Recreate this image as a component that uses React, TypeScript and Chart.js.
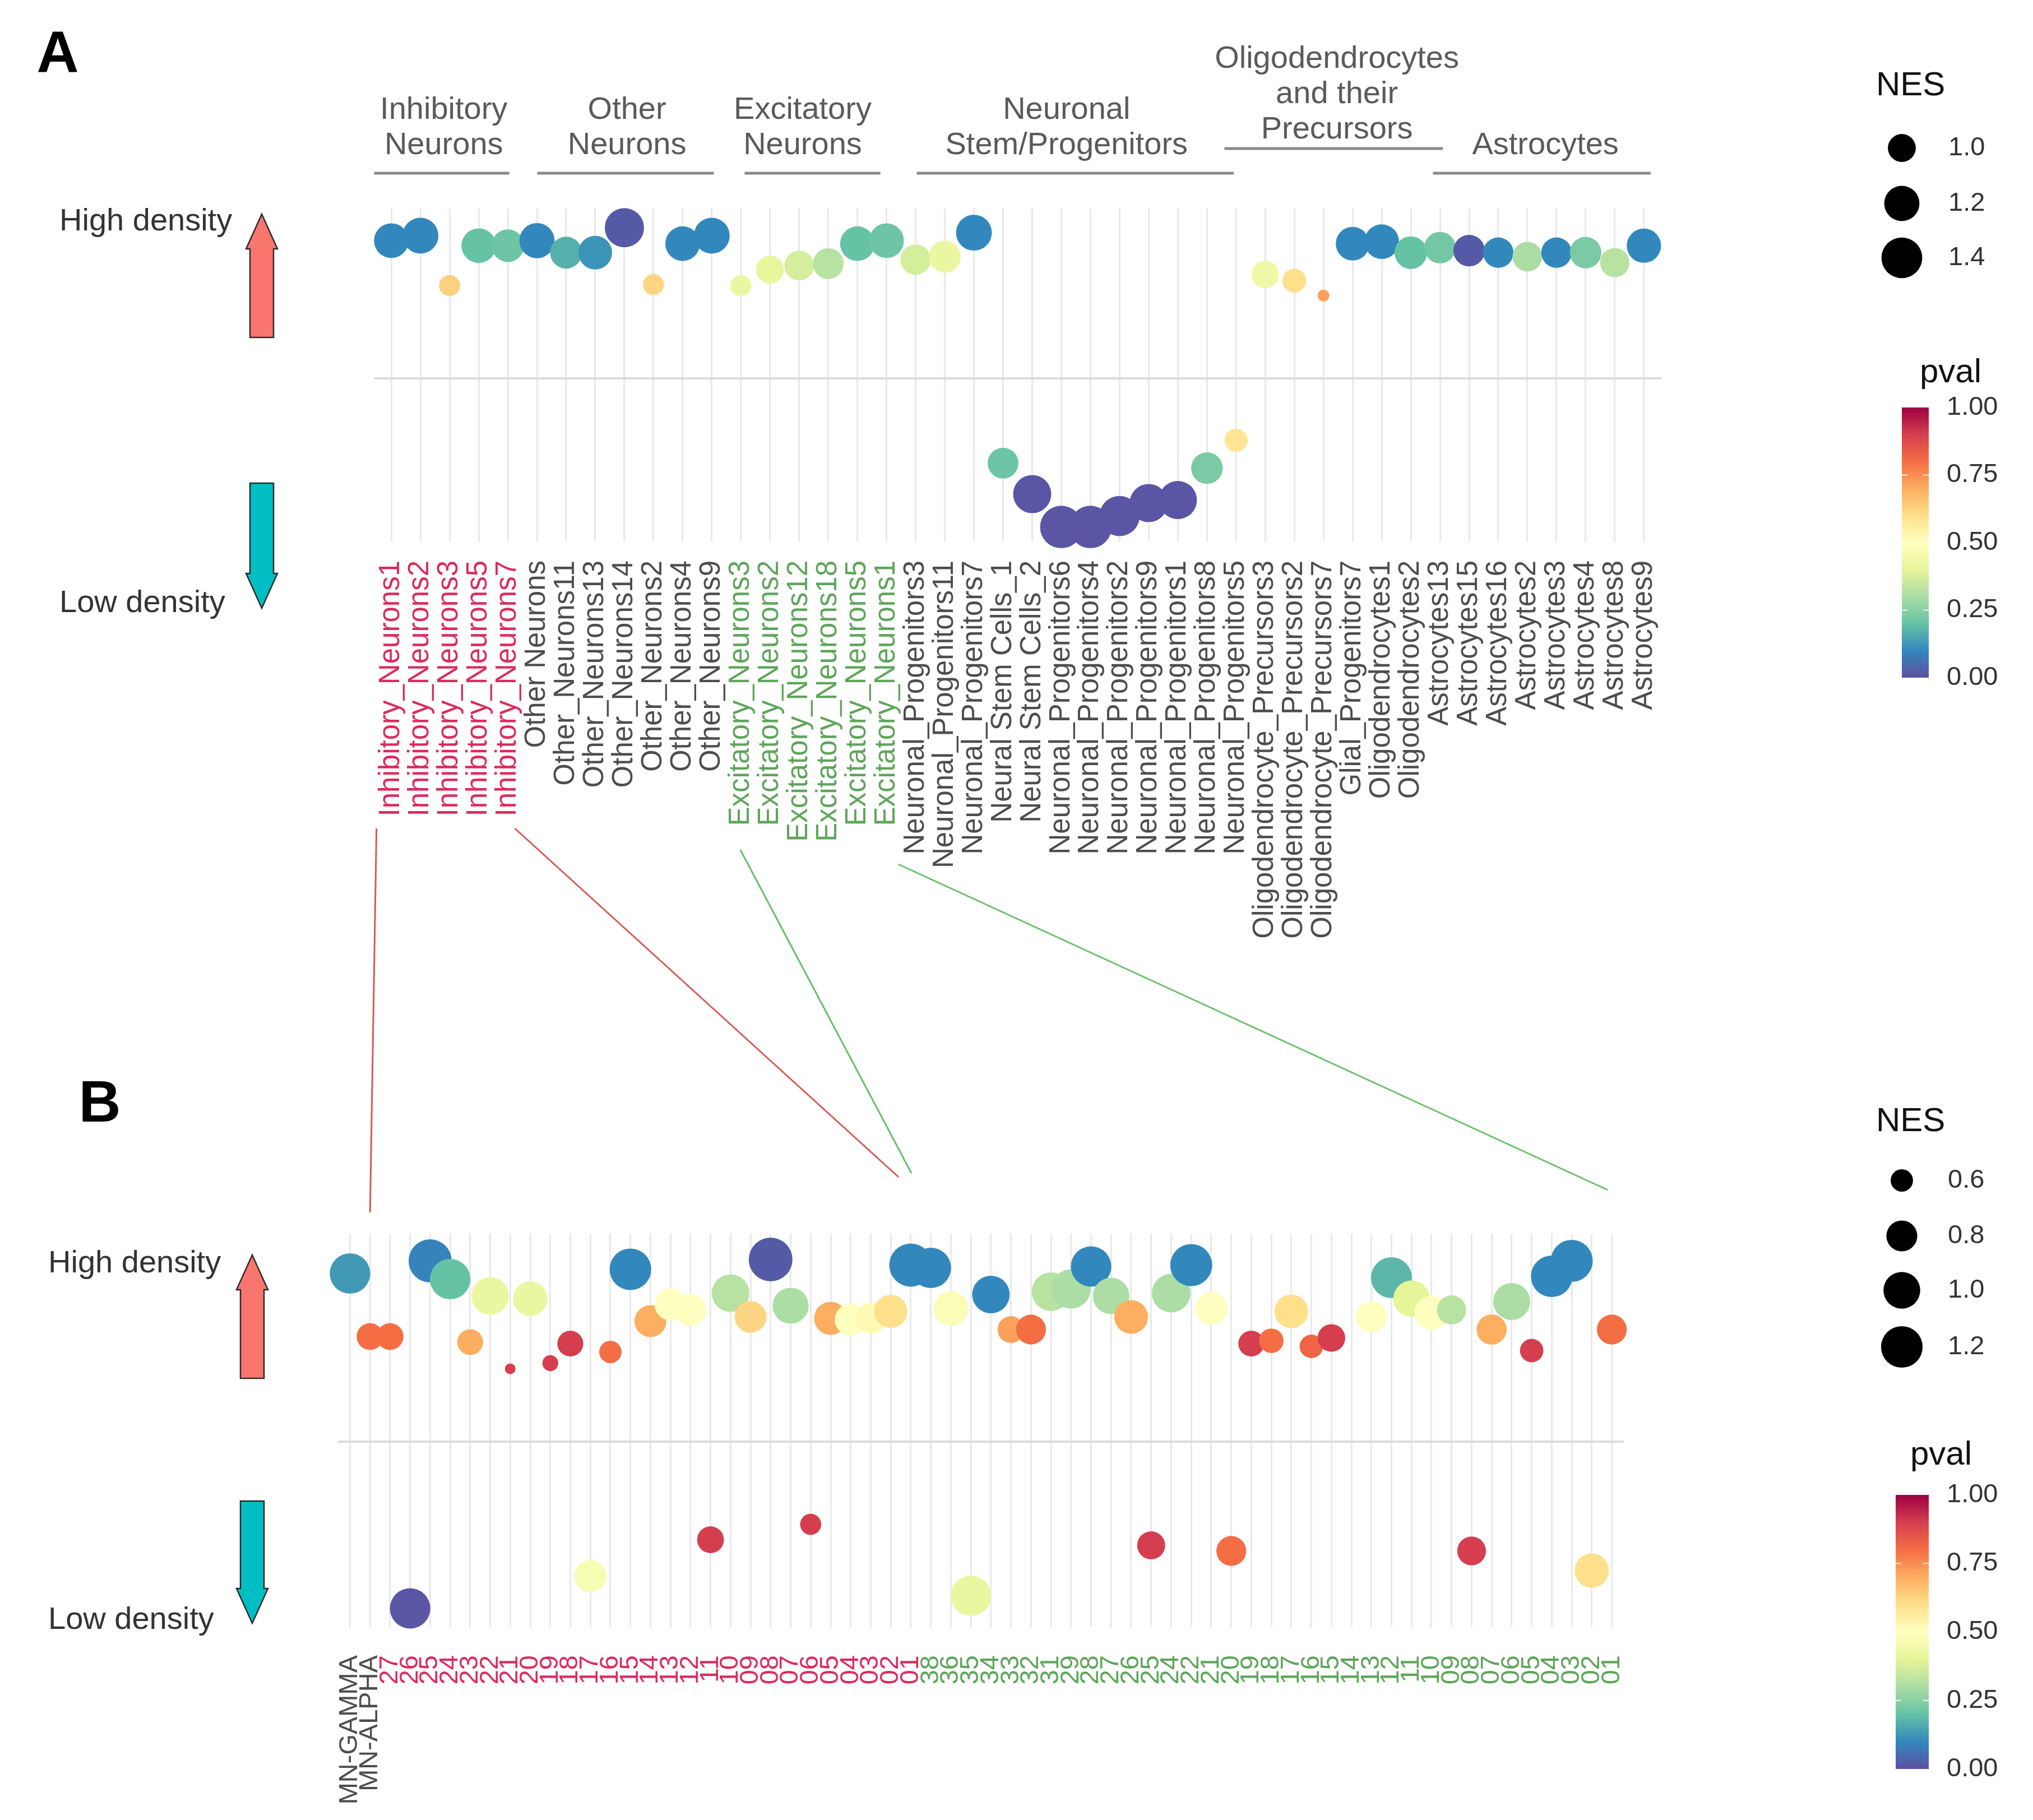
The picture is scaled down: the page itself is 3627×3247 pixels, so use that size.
import React, { useEffect, useRef } from 'react';
import { Chart, registerables } from 'chart.js';

Chart.register(...registerables);

const FONT = "'Liberation Sans', Arial, Helvetica, sans-serif";
const LETTER_FONT = "'Liberation Sans Narrow', 'Liberation Sans', Arial, sans-serif";

// ---------------- Panel A data ----------------
const aCategories = [
  'Inhibitory_Neurons1', 'Inhibitory_Neurons2', 'Inhibitory_Neurons3', 'Inhibitory_Neurons5', 'Inhibitory_Neurons7',
  'Other Neurons', 'Other_Neurons11', 'Other_Neurons13', 'Other_Neurons14', 'Other_Neurons2', 'Other_Neurons4', 'Other_Neurons9',
  'Excitatory_Neurons3', 'Excitatory_Neurons2', 'Excitatory_Neurons12', 'Excitatory_Neurons18', 'Excitatory_Neurons5', 'Excitatory_Neurons1',
  'Neuronal_Progenitors3', 'Neuronal_Progenitors11', 'Neuronal_Progenitors7', 'Neural Stem Cells_1', 'Neural Stem Cells_2',
  'Neuronal_Progenitors6', 'Neuronal_Progenitors4', 'Neuronal_Progenitors2', 'Neuronal_Progenitors9', 'Neuronal_Progenitors1',
  'Neuronal_Progenitors8', 'Neuronal_Progenitors5',
  'Oligodendrocyte_Precursors3', 'Oligodendrocyte_Precursors2', 'Oligodendrocyte_Precursors7', 'Glial_Progenitors7',
  'Oligodendrocytes1', 'Oligodendrocytes2',
  'Astrocytes13', 'Astrocytes15', 'Astrocytes16', 'Astrocytes2', 'Astrocytes3', 'Astrocytes4', 'Astrocytes8', 'Astrocytes9',
];
// signed position (positive = high density, negative = low density)
const aDensityScore = [
  1.38, 1.43, 0.93, 1.33, 1.33,
  1.38, 1.26, 1.26, 1.51, 0.94, 1.35, 1.43,
  0.93, 1.09, 1.13, 1.15, 1.35, 1.38,
  1.19, 1.22, 1.46, -0.85, -1.16,
  -1.49, -1.49, -1.38, -1.25, -1.22,
  -0.90, -0.62,
  1.04, 0.98, 0.83, 1.35,
  1.37, 1.26,
  1.31, 1.28, 1.26, 1.22, 1.26, 1.26, 1.16, 1.33,
];
const aNES = [
  1.18, 1.22, 0.88, 1.18, 1.12,
  1.20, 1.10, 1.15, 1.34, 0.88, 1.18, 1.22,
  0.88, 1.00, 1.04, 1.07, 1.18, 1.18,
  1.06, 1.10, 1.22, 1.07, 1.30,
  1.47, 1.47, 1.38, 1.30, 1.30,
  1.09, 0.91,
  0.99, 0.92, 0.82, 1.15,
  1.18, 1.12,
  1.09, 1.09, 1.06, 1.04, 1.06, 1.09, 1.03, 1.17,
];
const aPval = [
  0.10, 0.10, 0.63, 0.20, 0.21,
  0.10, 0.17, 0.12, 0.02, 0.62, 0.10, 0.10,
  0.42, 0.41, 0.37, 0.32, 0.20, 0.21,
  0.37, 0.42, 0.10, 0.21, 0.01,
  0.01, 0.01, 0.01, 0.01, 0.01,
  0.23, 0.58,
  0.44, 0.60, 0.72, 0.10,
  0.10, 0.20,
  0.22, 0.02, 0.10, 0.30, 0.10, 0.23, 0.32, 0.10,
];
const aGroupTitles = [
  ['Inhibitory', 'Neurons'],
  ['Other', 'Neurons'],
  ['Excitatory', 'Neurons'],
  ['Neuronal', 'Stem/Progenitors'],
  ['Oligodendrocytes', 'and their', 'Precursors'],
  ['Astrocytes'],
];

// ---------------- Panel B data ----------------
const bMNLabels = ['MN-GAMMA', 'MN-ALPHA'];
const bRedLabels = [
  '27', '26', '25', '24', '23', '22', '21', '20', '19', '18', '17', '16', '15', '14',
  '13', '12', '11', '10', '09', '08', '07', '06', '05', '04', '03', '02', '01',
];
const bGreenLabels = [
  '38', '36', '35', '34', '33', '32', '31', '29', '28', '27', '26', '25', '24', '22', '21', '20',
  '19', '18', '17', '16', '15', '14', '13', '12', '11', '10', '09', '08', '07', '06', '05', '04', '03', '02', '01',
];
const bCategories = [...bMNLabels, ...bRedLabels, ...bGreenLabels];
const bDensityScore: (number | null)[] = [
  1.20, 0.75,
  0.75, -1.19, 1.29, 1.16, 0.71, 1.04, 0.52, 1.02, 0.56, 0.70, -0.96, 0.64, 1.23, 0.86,
  0.98, 0.94, -0.70, 1.06, 0.89, 1.30, 0.97, -0.59, 0.88, 0.87, 0.88, 0.93, 1.26,
  1.24, 0.95, -1.10, 1.05, 0.80, 0.80, 1.07, 1.09, 1.25, 1.04, 0.89, -0.74, 1.06, 1.26, 0.95, -0.78,
  0.70, 0.72, 0.93, 0.68, 0.74, null, 0.89, 1.17, 1.02, 0.92, 0.94, -0.78, 0.80, 1.00, 0.65, 1.18, 1.29, -0.92, 0.80,
];
const bNES: (number | null)[] = [
  1.15, 0.69,
  0.69, 1.15, 1.27, 1.15, 0.67, 1.03, 0.50, 0.92, 0.52, 0.67, 0.83, 0.60, 1.20, 0.83,
  0.83, 0.83, 0.69, 1.03, 0.83, 1.30, 0.97, 0.58, 0.87, 0.83, 0.80, 0.87, 1.27,
  1.15, 0.92, 1.15, 1.03, 0.69, 0.77, 1.07, 1.10, 1.15, 0.99, 0.89, 0.72, 1.07, 1.22, 0.85, 0.77,
  0.67, 0.64, 0.89, 0.62, 0.71, null, 0.80, 1.17, 0.99, 0.91, 0.75, 0.74, 0.78, 1.01, 0.62, 1.20, 1.22, 0.91, 0.77,
];
const bPval: (number | null)[] = [
  0.13, 0.80,
  0.80, 0.01, 0.09, 0.20, 0.70, 0.42, 0.90, 0.42, 0.90, 0.90, 0.47, 0.80, 0.10, 0.70,
  0.50, 0.50, 0.90, 0.32, 0.62, 0.02, 0.30, 0.90, 0.70, 0.50, 0.52, 0.60, 0.10,
  0.10, 0.48, 0.42, 0.10, 0.72, 0.80, 0.32, 0.30, 0.10, 0.30, 0.70, 0.90, 0.30, 0.10, 0.50, 0.80,
  0.90, 0.80, 0.60, 0.82, 0.90, null, 0.50, 0.18, 0.40, 0.50, 0.32, 0.90, 0.70, 0.30, 0.90, 0.10, 0.10, 0.60, 0.80,
];

// ---------------- legend values ----------------
const aNESLegend = [1.0, 1.2, 1.4];
const bNESLegend = [0.6, 0.8, 1.0, 1.2];
const pvalLegendTicks = [1.0, 0.75, 0.5, 0.25, 0.0];

// ---------------- styles ----------------
const SPECTRAL = ['#5e4fa2', '#3288bd', '#66c2a5', '#abdda4', '#e6f598', '#ffffbf', '#fee08b', '#fdae61', '#f46d43', '#d53e4f', '#9e0142'];
const LABEL_RED = '#dc2a5c';
const LABEL_GREEN = '#5ea55a';
const LABEL_GRAY = '#4d4d4d';

function hexToRgb(h: string) {
  const v = parseInt(h.slice(1), 16);
  return [(v >> 16) & 255, (v >> 8) & 255, v & 255];
}
function spectral(p: number) {
  const t = Math.max(0, Math.min(1, p)) * 10;
  const i = Math.min(9, Math.floor(t));
  const f = t - i;
  const a = hexToRgb(SPECTRAL[i]);
  const b = hexToRgb(SPECTRAL[i + 1]);
  const c = a.map((x, k) => Math.round(x + (b[k] - x) * f));
  return `rgb(${c[0]},${c[1]},${c[2]})`;
}
const clamp01 = (v: number) => Math.max(0, Math.min(1, v));
const radiusA = (n: number) => (21 + 60 * Math.sqrt(clamp01((n - 0.82) / 0.78))) / 2;
const radiusB = (n: number) => (19 + 59 * Math.sqrt(clamp01((n - 0.5) / 0.8))) / 2;

function text(ctx: CanvasRenderingContext2D, s: string, x: number, y: number, font: string, color: string, align: CanvasTextAlign = 'left') {
  ctx.font = font;
  ctx.fillStyle = color;
  ctx.textAlign = align;
  ctx.textBaseline = 'middle';
  ctx.fillText(s, x, y);
}

function arrow(ctx: CanvasRenderingContext2D, cx: number, tailY: number, tipY: number, fill: string) {
  const dir = tipY < tailY ? -1 : 1;
  const headLen = 62, hw = 28, sw = 21;
  const baseY = tipY - dir * headLen;
  ctx.beginPath();
  ctx.moveTo(cx - sw, tailY);
  ctx.lineTo(cx - sw, baseY);
  ctx.lineTo(cx - hw, baseY);
  ctx.lineTo(cx, tipY);
  ctx.lineTo(cx + hw, baseY);
  ctx.lineTo(cx + sw, baseY);
  ctx.lineTo(cx + sw, tailY);
  ctx.closePath();
  ctx.fillStyle = fill;
  ctx.fill();
  ctx.strokeStyle = '#2b2b2b';
  ctx.lineWidth = 2.5;
  ctx.stroke();
}

interface LegendCfg {
  nesTitle: [number, number];
  dotX: number;
  dotYs: number[];
  values: number[];
  radius: (n: number) => number;
  labelX: number;
  pvalTitle: [number, number];
  bar: [number, number, number, number]; // x0, x1, yTop, yBottom
  tickLabelX: number;
}
function legend(ctx: CanvasRenderingContext2D, c: LegendCfg) {
  text(ctx, 'NES', c.nesTitle[0], c.nesTitle[1], `60px ${FONT}`, '#111');
  c.values.forEach((v, i) => {
    ctx.beginPath();
    ctx.arc(c.dotX, c.dotYs[i], c.radius(v), 0, Math.PI * 2);
    ctx.fillStyle = '#000';
    ctx.fill();
    text(ctx, v.toFixed(1), c.labelX, c.dotYs[i], `47px ${FONT}`, '#333');
  });
  text(ctx, 'pval', c.pvalTitle[0], c.pvalTitle[1], `60px ${FONT}`, '#111');
  const [x0, x1, yT, yB] = c.bar;
  const g = ctx.createLinearGradient(0, yB, 0, yT);
  SPECTRAL.forEach((col, i) => g.addColorStop(i / 10, col));
  ctx.fillStyle = g;
  ctx.fillRect(x0, yT, x1 - x0, yB - yT);
  ctx.strokeStyle = 'rgba(255,255,255,0.9)';
  ctx.lineWidth = 2;
  pvalLegendTicks.forEach((p) => {
    const y = yB - (yB - yT) * p;
    if (p > 0 && p < 1) {
      ctx.beginPath();
      ctx.moveTo(x0, y); ctx.lineTo(x0 + 10, y);
      ctx.moveTo(x1 - 10, y); ctx.lineTo(x1, y);
      ctx.stroke();
    }
    text(ctx, p.toFixed(2), c.tickLabelX, y, `47px ${FONT}`, '#333');
  });
}

// ---------------- layout (page pixels) ----------------
const PAGE_W = 3627;
const A_H = 1800;
const B_TOP = 1400;
const B_H = 3247 - B_TOP;

const headerCenter = [1.80, 8.09, 14.12, 23.18, 32.46, 39.62];
const headerBar = [[-0.59, 4.05], [5.01, 11.07], [12.13, 16.79], [18.04, 28.92], [28.6, 36.1], [35.76, 43.23]];
const headerLastLineY = [260, 260, 260, 260, 232, 260];
const headerBarY = [309, 309, 309, 309, 265, 309];

const links = [
  { a: -0.51, yTop: 1478, b: 1.0, yBot: 2163, color: '#d65a56' },
  { a: 4.24, yTop: 1478, b: 27.39, yBot: 2100, color: '#d65a56' },
  { a: 11.98, yTop: 1516, b: 28.03, yBot: 2093, color: '#6abf69' },
  { a: 17.41, yTop: 1542, b: 62.8, yBot: 2123, color: '#6abf69' },
];

const decorA = {
  id: 'decorA',
  afterDraw(chart: any) {
    const ctx: CanvasRenderingContext2D = chart.ctx;
    const xs = chart.scales.x;
    ctx.save();
    text(ctx, 'A', 103, 99, `bold 104px ${LETTER_FONT}`, '#000', 'center');
    text(ctx, 'High density', 106, 396, `56px ${FONT}`, '#333');
    text(ctx, 'Low density', 106, 1077, `56px ${FONT}`, '#333');
    arrow(ctx, 467, 602, 382, '#f8766d');
    arrow(ctx, 467, 862, 1085, '#00bfc4');
    aGroupTitles.forEach((lines, gi) => {
      const cx = xs.getPixelForValue(headerCenter[gi]);
      lines.forEach((ln, li) => {
        const y = headerLastLineY[gi] - (lines.length - 1 - li) * 63;
        text(ctx, ln, cx, y, `56px ${FONT}`, '#5a5a5a', 'center');
      });
      ctx.strokeStyle = '#8a8a8a';
      ctx.lineWidth = 5;
      ctx.beginPath();
      ctx.moveTo(xs.getPixelForValue(headerBar[gi][0]), headerBarY[gi]);
      ctx.lineTo(xs.getPixelForValue(headerBar[gi][1]), headerBarY[gi]);
      ctx.stroke();
    });
    legend(ctx, {
      nesTitle: [3347, 153],
      dotX: 3393,
      dotYs: [264, 363, 460],
      values: aNESLegend,
      radius: radiusA,
      labelX: 3476,
      pvalTitle: [3425, 665],
      bar: [3393, 3441, 727, 1209],
      tickLabelX: 3473,
    });
    ctx.restore();
  },
};

function makeDecorB(chartA: any) {
  return {
    id: 'decorB',
    afterDraw(chart: any) {
      const ctx: CanvasRenderingContext2D = chart.ctx;
      const xb = chart.scales.x;
      const xa = chartA.scales.x;
      const o = B_TOP;
      ctx.save();
      links.forEach((l) => {
        ctx.strokeStyle = l.color;
        ctx.lineWidth = 3;
        ctx.beginPath();
        ctx.moveTo(xa.getPixelForValue(l.a), l.yTop - o);
        ctx.lineTo(xb.getPixelForValue(l.b), l.yBot - o);
        ctx.stroke();
      });
      text(ctx, 'B', 178, 1972 - o, `bold 104px ${LETTER_FONT}`, '#000', 'center');
      text(ctx, 'High density', 86, 2255 - o, `56px ${FONT}`, '#333');
      text(ctx, 'Low density', 86, 2891 - o, `56px ${FONT}`, '#333');
      arrow(ctx, 450, 2459 - o, 2239 - o, '#f8766d');
      arrow(ctx, 450, 2678 - o, 2896 - o, '#00bfc4');
      legend(ctx, {
        nesTitle: [3347, 2001 - o],
        dotX: 3393,
        dotYs: [2106 - o, 2205 - o, 2302 - o, 2403 - o],
        values: bNESLegend,
        radius: radiusB,
        labelX: 3475,
        pvalTitle: [3408, 2596 - o],
        bar: [3382, 3441, 2667 - o, 3156 - o],
        tickLabelX: 3473,
      });
      ctx.restore();
    },
  };
}

function labelColorA(i: number) {
  const n = aCategories[i] || '';
  if (n.startsWith('Inhibitory')) return LABEL_RED;
  if (n.startsWith('Excitatory')) return LABEL_GREEN;
  return LABEL_GRAY;
}
function labelColorB(i: number) {
  if (i < bMNLabels.length) return LABEL_GRAY;
  if (i < bMNLabels.length + bRedLabels.length) return LABEL_RED;
  return LABEL_GREEN;
}

function makeConfig(opts: {
  categories: string[];
  points: { x: number; y: number; nes: number; pval: number }[];
  radius: (n: number) => number;
  yMin: number; yMax: number;
  padding: { left: number; right: number; top: number };
  axisHeight: number;
  tickPadding: number;
  fontSize: number;
  labelColor: (i: number) => string;
  plugin: any;
}) {
  const n = opts.categories.length;
  return {
    type: 'scatter' as const,
    data: {
      datasets: [
        {
          data: opts.points,
          pointRadius: (c: any) => opts.radius(c.raw ? c.raw.nes : 1),
          pointHoverRadius: (c: any) => opts.radius(c.raw ? c.raw.nes : 1),
          pointBackgroundColor: (c: any) => spectral(c.raw ? c.raw.pval : 0),
          pointBorderWidth: 0,
          pointHoverBorderWidth: 0,
          clip: false as any,
        },
      ],
    },
    options: {
      responsive: false,
      animation: false as const,
      events: [] as any[],
      layout: { padding: { left: opts.padding.left, right: opts.padding.right, top: opts.padding.top, bottom: 0 } },
      plugins: { legend: { display: false }, tooltip: { enabled: false } },
      scales: {
        x: {
          type: 'linear' as const,
          min: -0.6,
          max: n - 1 + 0.6,
          afterBuildTicks: (axis: any) => {
            axis.ticks = opts.categories.map((_, i) => ({ value: i }));
          },
          afterFit: (s: any) => {
            s.height = opts.axisHeight;
            s.paddingLeft = 0;
            s.paddingRight = 0;
          },
          ticks: {
            autoSkip: false,
            minRotation: 90,
            maxRotation: 90,
            padding: opts.tickPadding,
            font: { family: FONT, size: opts.fontSize },
            color: (c: any) => opts.labelColor(Math.round(c.tick ? c.tick.value : c.index)),
            callback: (v: any) => opts.categories[Math.round(Number(v))] ?? '',
          },
          grid: { color: '#e9e9e9', lineWidth: 3, drawTicks: false },
          border: { display: false },
        },
        y: {
          type: 'linear' as const,
          min: opts.yMin,
          max: opts.yMax,
          afterBuildTicks: (axis: any) => {
            axis.ticks = [{ value: 0 }];
          },
          afterFit: (s: any) => {
            s.width = 0;
            s.paddingTop = 0;
            s.paddingBottom = 0;
          },
          ticks: { display: false },
          grid: { color: '#dcdcdc', lineWidth: 4, drawTicks: false },
          border: { display: false },
        },
      },
    },
    plugins: [opts.plugin],
  };
}

export default function App() {
  const refA = useRef<HTMLCanvasElement>(null);
  const refB = useRef<HTMLCanvasElement>(null);

  useEffect(() => {
    document.body.style.margin = '0';
    const pointsA = aCategories.map((_, i) => ({ x: i, y: aDensityScore[i], nes: aNES[i], pval: aPval[i] }));
    const pointsB = bCategories
      .map((_, i) => ({ x: i, y: bDensityScore[i], nes: bNES[i], pval: bPval[i] }))
      .filter((p) => p.y !== null && p.nes !== null && p.pval !== null) as any[];

    const chartA = new Chart(
      refA.current as HTMLCanvasElement,
      makeConfig({
        categories: aCategories,
        points: pointsA,
        radius: radiusA,
        yMin: -1.635,
        yMax: 1.708,
        padding: { left: 667, right: PAGE_W - 2964, top: 371 },
        axisHeight: A_H - 966,
        tickPadding: 34,
        fontSize: 51,
        labelColor: labelColorA,
        plugin: decorA,
      }) as any
    );
    const chartB = new Chart(
      refB.current as HTMLCanvasElement,
      makeConfig({
        categories: bCategories,
        points: pointsB,
        radius: radiusB,
        yMin: -1.324,
        yMax: 1.484,
        padding: { left: 603, right: PAGE_W - 2897, top: 2201 - B_TOP },
        axisHeight: 3247 - 2903,
        tickPadding: 50,
        fontSize: 47,
        labelColor: labelColorB,
        plugin: makeDecorB(chartA),
      }) as any
    );
    return () => {
      chartB.destroy();
      chartA.destroy();
    };
  }, []);

  return (
    <div style={{ position: 'relative', width: PAGE_W, height: 3247, background: '#fff', overflow: 'hidden' }}>
      <canvas ref={refA} width={PAGE_W} height={A_H} style={{ position: 'absolute', left: 0, top: 0 }} />
      <canvas ref={refB} width={PAGE_W} height={B_H} style={{ position: 'absolute', left: 0, top: B_TOP }} />
    </div>
  );
}
